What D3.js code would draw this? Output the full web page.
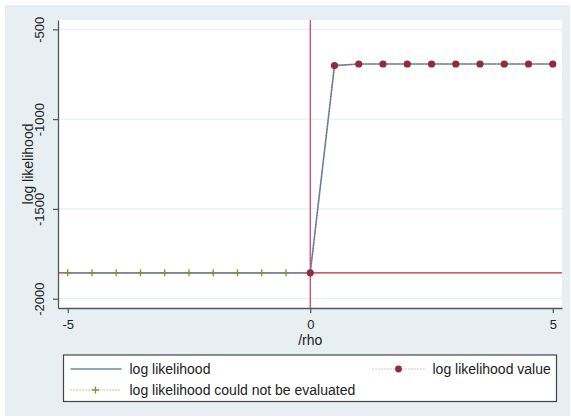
<!DOCTYPE html>
<html>
<head>
<meta charset="utf-8">
<script src="https://cdn.jsdelivr.net/npm/d3@7"></script>
<style>
  body { margin: 0; background: #fff; }
  text { font-family: "Liberation Sans", Arial, sans-serif; fill: #222; }
</style>
</head>
<body>
<div id="chart"></div>
<script>
// grid of /rho values and the log likelihood
const rhoGrid = [-5, -4.5, -4, -3.5, -3, -2.5, -2, -1.5, -1, -0.5, 0, 0.5, 1, 1.5, 2, 2.5, 3, 3.5, 4, 4.5, 5];
const logLik = [-1856, -1856, -1856, -1856, -1856, -1856, -1856, -1856, -1856, -1856,
                -1856, -702, -693, -693, -693, -693, -693, -693, -693, -693, -693];
// 1 = value evaluated, 0 = could not be evaluated
const evaluated = [0, 0, 0, 0, 0, 0, 0, 0, 0, 0, 1, 1, 1, 1, 1, 1, 1, 1, 1, 1, 1];
const xTicks = [-5, 0, 5];
const yTicks = [-500, -1000, -1500, -2000];
const refRho = 0;
const refLogLik = -1856;
const legendLabels = ["log likelihood", "log likelihood value", "log likelihood could not be evaluated"];

const data = rhoGrid.map((r, i) => ({rho: r, ll: logLik[i], ok: evaluated[i]}));

const W = 571, H = 420;
var margin = {top: 20, right: 9, bottom: 112, left: 58},
    width = W - margin.left - margin.right,
    height = H - margin.top - margin.bottom;

var blue = "#6d8bb0", maroon = "#8f2d36", green = "#76963c";

var root = d3.select("#chart").append("svg")
    .attr("width", W).attr("height", H);

// outer light background
root.append("rect")
    .attr("x", 5).attr("y", 5).attr("width", 565).attr("height", 411)
    .attr("fill", "#e8eff2");

var svg = root.append("g")
    .attr("transform", "translate(" + margin.left + "," + margin.top + ")");

svg.append("rect")
    .attr("width", width).attr("height", height).attr("fill", "#fff");

var x = d3.scaleLinear().domain([-5.2, 5.19]).range([0, width]);
var y = d3.scaleLinear().domain([-2052, -448]).range([height, 0]);

// gridlines
svg.append("g").selectAll("line")
    .data(yTicks).enter().append("line")
    .attr("x1", 0).attr("x2", width)
    .attr("y1", d => y(d)).attr("y2", d => y(d))
    .attr("stroke", "#e6eff1").attr("stroke-width", 1.2);

// reference lines
svg.append("line")
    .attr("x1", 0).attr("x2", width)
    .attr("y1", y(refLogLik)).attr("y2", y(refLogLik))
    .attr("stroke", "#b42a3c").attr("stroke-width", 1.2);
svg.append("line")
    .attr("x1", x(refRho)).attr("x2", x(refRho))
    .attr("y1", 0).attr("y2", height)
    .attr("stroke", "#d8335a").attr("stroke-width", 1.2);

// log likelihood line
var line = d3.line().x(d => x(d.rho)).y(d => y(d.ll));
svg.append("path").datum(data)
    .attr("fill", "none").attr("stroke", blue).attr("stroke-width", 1.6)
    .attr("d", line);

// dotted connectors
var bad = data.filter(d => !d.ok), good = data.filter(d => d.ok);
svg.append("path").datum(bad)
    .attr("fill", "none").attr("stroke", green).attr("stroke-width", 1)
    .attr("stroke-dasharray", "1,2").attr("d", line);
svg.append("path").datum(good)
    .attr("fill", "none").attr("stroke", maroon).attr("stroke-width", 1)
    .attr("stroke-dasharray", "1,2").attr("opacity", 0.6).attr("d", line);

// plus markers
svg.append("g").selectAll("path")
    .data(bad).enter().append("path")
    .attr("d", d => "M" + (x(d.rho) - 3.5) + "," + y(d.ll) + "h7M" + x(d.rho) + "," + (y(d.ll) - 3.5) + "v7")
    .attr("stroke", green).attr("stroke-width", 1.3).attr("fill", "none");

// dot markers
svg.append("g").selectAll("circle")
    .data(good).enter().append("circle")
    .attr("cx", d => x(d.rho)).attr("cy", d => y(d.ll))
    .attr("r", 3.6).attr("fill", maroon);

// axes
var xAxis = svg.append("g")
    .attr("transform", "translate(0," + height + ")")
    .call(d3.axisBottom(x).tickValues(xTicks).tickSize(5).tickSizeOuter(0).tickFormat(d => String(d)));
xAxis.selectAll("text").style("font-size", "13px").attr("dy", "0.71em").attr("y", 12);

var yAxis = svg.append("g")
    .call(d3.axisLeft(y).tickValues(yTicks).tickSize(5).tickSizeOuter(0).tickFormat(d => String(d)));
yAxis.selectAll("text")
    .style("font-size", "13px")
    .attr("transform", "rotate(-90)")
    .attr("x", 0).attr("y", -14).attr("dy", 0)
    .attr("text-anchor", "middle");

[xAxis, yAxis].forEach(a => {
    a.select(".domain").attr("stroke", "#555").attr("stroke-width", 1.3);
    a.selectAll(".tick line").attr("stroke", "#555").attr("stroke-width", 1.2);
    a.selectAll("text").style("fill", "#222").style("font-family", "'Liberation Sans', Arial, sans-serif");
});

// axis titles
svg.append("text")
    .attr("x", x(0)).attr("y", height + 37)
    .attr("text-anchor", "middle")
    .style("font-size", "14px")
    .text("/rho");

svg.append("text")
    .attr("transform", "rotate(-90)")
    .attr("x", -height / 2).attr("y", -25)
    .attr("text-anchor", "middle")
    .style("font-size", "14px")
    .text("log likelihood");

// legend
var leg = root.append("g").attr("transform", "translate(63.5,355)");
leg.append("rect")
    .attr("width", 493).attr("height", 46.5)
    .attr("fill", "#fff").attr("stroke", "#444").attr("stroke-width", 1.2);

// row 1 left: solid line
leg.append("line").attr("x1", 7).attr("x2", 58).attr("y1", 14).attr("y2", 14)
    .attr("stroke", blue).attr("stroke-width", 1.6);
leg.append("text").attr("x", 66).attr("y", 19).style("font-size", "14px").text(legendLabels[0]);

// row 1 right: dotted with dot
leg.append("line").attr("x1", 309).attr("x2", 362).attr("y1", 14).attr("y2", 14)
    .attr("stroke", maroon).attr("stroke-width", 1).attr("stroke-dasharray", "1,2").attr("opacity", 0.6);
leg.append("circle").attr("cx", 335).attr("cy", 14).attr("r", 3.4).attr("fill", maroon);
leg.append("text").attr("x", 369).attr("y", 19).style("font-size", "14px").text(legendLabels[1]);

// row 2: dotted with plus
leg.append("line").attr("x1", 7).attr("x2", 58).attr("y1", 35).attr("y2", 35)
    .attr("stroke", green).attr("stroke-width", 1).attr("stroke-dasharray", "1,2");
leg.append("path").attr("d", "M28.5,35h7M32,31.5v7")
    .attr("stroke", green).attr("stroke-width", 1.3);
leg.append("text").attr("x", 66).attr("y", 40).style("font-size", "14px").text(legendLabels[2]);
</script>
</body>
</html>
